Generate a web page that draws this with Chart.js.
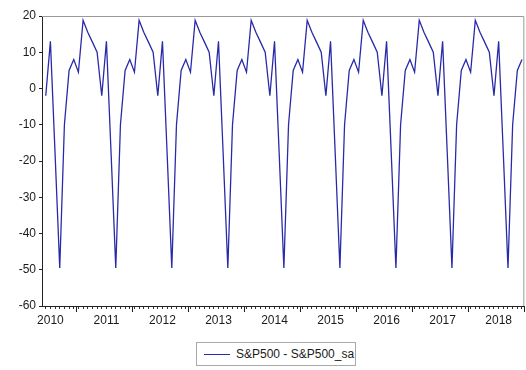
<!DOCTYPE html>
<html>
<head>
<meta charset="utf-8">
<script src="https://cdn.jsdelivr.net/npm/chart.js@4/dist/chart.umd.min.js"></script>
<style>
  html, body { margin: 0; padding: 0; background: #fff; }
  #wrap { position: relative; width: 526px; height: 370px; }
  #plot { position: absolute; left: 0; top: 0; }
  #legend {
    position: absolute; left: 196px; top: 342px; width: 160px; height: 24px;
    border: 1px solid #a8a8a8; box-sizing: border-box;
    font-family: "Liberation Sans", Arial, sans-serif; font-size: 12px; color: #1a1a1a;
    display: flex; align-items: center;
  }
  #legend .swatch { width: 26px; height: 0; border-top: 1.3px solid #2a2aa8; margin: 0 6px 0 7px; }
</style>
</head>
<body>
<div id="wrap">
  <canvas id="plot" width="526" height="331"></canvas>
  <div id="legend"><span class="swatch"></span><span id="legendText"></span></div>
</div>
<script>
// Monthly observations, Dec 2009 .. Jun 2018 (103 points)
const startYear = 2009;
const startMonth = 12;
const seriesName = "S&P500 - S&P500_sa";
const yearLabels = ["2010", "2011", "2012", "2013", "2014", "2015", "2016", "2017", "2018"];
const yTicks = [20, 10, 0, -10, -20, -30, -40, -50, -60];

// S&P500 minus its seasonally adjusted series
const diffValues = [
  -2.0,
  13.0, -18.0, -49.5, -10.0, 5.0, 8.0, 4.5, 18.8, 15.5, 12.8, 10.0, -2.0,
  13.0, -18.0, -49.5, -10.0, 5.0, 8.0, 4.5, 18.8, 15.5, 12.8, 10.0, -2.0,
  13.0, -18.0, -49.5, -10.0, 5.0, 8.0, 4.5, 18.8, 15.5, 12.8, 10.0, -2.0,
  13.0, -18.0, -49.5, -10.0, 5.0, 8.0, 4.5, 18.8, 15.5, 12.8, 10.0, -2.0,
  13.0, -18.0, -49.5, -10.0, 5.0, 8.0, 4.5, 18.8, 15.5, 12.8, 10.0, -2.0,
  13.0, -18.0, -49.5, -10.0, 5.0, 8.0, 4.5, 18.8, 15.5, 12.8, 10.0, -2.0,
  13.0, -18.0, -49.5, -10.0, 5.0, 8.0, 4.5, 18.8, 15.5, 12.8, 10.0, -2.0,
  13.0, -18.0, -49.5, -10.0, 5.0, 8.0, 4.5, 18.8, 15.5, 12.8, 10.0, -2.0,
  13.0, -18.0, -49.5, -10.0, 5.0, 8.0
];

// period labels (YYYY-MM) for each observation
const periods = diffValues.map((_, i) => {
  const m = startMonth - 1 + i;
  const y = startYear + Math.floor(m / 12);
  return y + "-" + String((m % 12) + 1).padStart(2, "0");
});

document.getElementById("legendText").textContent = seriesName;

const FONT = { family: '"Liberation Sans", Arial, sans-serif', size: 12 };

// grey frame on top/right plus the longer year-boundary ticks
const frame = {
  id: "frame",
  afterDraw(chart) {
    const { ctx, chartArea: a, scales } = chart;
    ctx.save();
    ctx.strokeStyle = "#9a9a9a";
    ctx.lineWidth = 1;
    ctx.beginPath();
    ctx.moveTo(a.left, a.top + 0.5);
    ctx.lineTo(a.right - 0.5, a.top + 0.5);
    ctx.lineTo(a.right - 0.5, a.bottom);
    ctx.stroke();
    ctx.strokeStyle = "#222";
    ctx.beginPath();
    for (let v = 6.5; v < periods.length; v += 12) {
      const x = Math.round(scales.x.getPixelForValue(v)) + 0.5;
      ctx.moveTo(x, a.bottom);
      ctx.lineTo(x, a.bottom + 6);
    }
    ctx.stroke();
    ctx.restore();
  }
};

new Chart(document.getElementById("plot"), {
  type: "line",
  data: {
    datasets: [{
      label: seriesName,
      data: diffValues.map((v, i) => ({ x: i, y: v })),
      borderColor: "#2a2aa8",
      borderWidth: 1.3,
      pointRadius: 0,
      tension: 0
    }]
  },
  options: {
    responsive: false,
    animation: false,
    layout: { padding: { left: 0, right: 1, top: 16, bottom: 0 } },
    plugins: { legend: { display: false }, tooltip: { enabled: false } },
    scales: {
      x: {
        type: "linear",
        min: -0.8,
        max: 102.5,
        afterBuildTicks(scale) {
          scale.ticks = periods.map((_, i) => ({ value: i }));
        },
        afterFit(scale) { scale.height = 25; },
        grid: { drawOnChartArea: false, drawTicks: true, tickLength: 3, color: "#333" },
        border: { display: true, color: "#222", width: 1 },
        ticks: {
          autoSkip: false,
          maxRotation: 0,
          padding: 4,
          color: "#1a1a1a",
          font: FONT,
          callback(value) {
            const p = periods[value];
            return p && p.endsWith("-01") ? yearLabels[yearLabels.indexOf(p.slice(0, 4))] : "";
          }
        }
      },
      y: {
        min: -60,
        max: 20,
        afterBuildTicks(scale) {
          scale.ticks = yTicks.map(v => ({ value: v }));
        },
        afterFit(scale) { scale.width = 42; },
        grid: { drawOnChartArea: false, drawTicks: true, tickLength: 3, color: "#222" },
        border: { display: true, color: "#222", width: 1 },
        ticks: { color: "#1a1a1a", font: FONT, padding: 3 }
      }
    }
  },
  plugins: [frame]
});
</script>
</body>
</html>
